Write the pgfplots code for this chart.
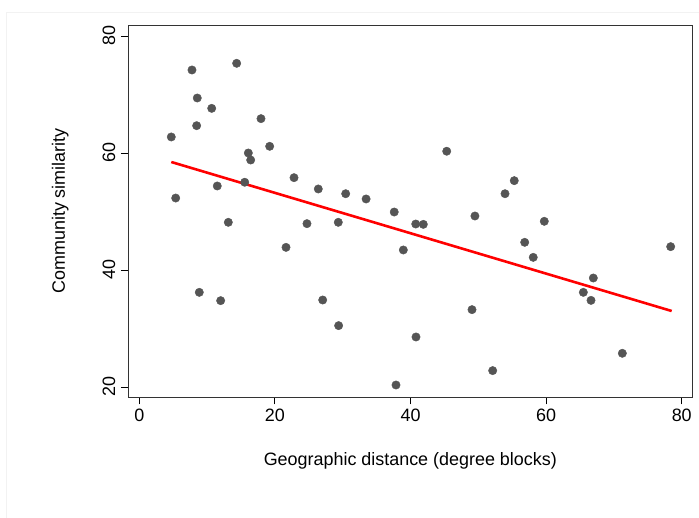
\documentclass[border=0pt]{standalone}
\usepackage{pgfplots}
\pgfplotsset{compat=1.18}
\usepackage{fontspec}
\setmainfont{Liberation Sans}
\definecolor{markgray}{HTML}{555555}
\definecolor{framegray}{HTML}{F2F2F2}

\begin{document}
\begin{tikzpicture}[x=1bp,y=1bp]
\begin{axis}[
  scale only axis,
  width=564bp, height=372bp,
  xmin=-1.62, xmax=81.56,
  ymin=18.29, ymax=81.88,
  xtick={0,20,40,60,80},
  ytick={20,40,60,80},
  tick align=outside,
  major tick length=7.5bp,
  tick style={black, line width=0.8bp},
  axis line style={black!80, line width=0.9bp},
  xtick pos=bottom, ytick pos=left,
  /pgf/number format/assume math mode=true,
  tick label style={font=\fontsize{18}{21}\selectfont},
  yticklabel style={rotate=90, anchor=south, yshift=2bp},
  xticklabel style={yshift=-1bp},
  label style={font=\fontsize{18}{21}\selectfont},
  xlabel={Geographic distance (degree blocks)},
  ylabel={Community similarity},
  xlabel style={at={(axis description cs:0.5,0)}, anchor=center, yshift=-64bp},
  ylabel style={at={(axis description cs:0,0.5)}, anchor=center, yshift=68bp},
  clip=false,
]
\coordinate (O) at (rel axis cs:0,0);
\addplot[only marks, mark=*, mark size=4.2bp, draw=markgray, fill=markgray]
coordinates {
(4.72,62.74) (5.37,52.30) (7.77,74.19) (8.55,69.40) (8.46,64.67)
(10.68,67.63) (14.36,75.33) (11.50,54.36) (13.13,48.15) (16.08,60.00)
(16.43,58.80) (15.55,55.00) (17.95,65.87) (19.23,61.14) (22.82,55.78)
(24.73,47.92) (26.40,53.85) (29.35,48.15) (30.44,53.04) (21.64,43.87)
(33.45,52.14) (37.60,49.91) (40.77,47.86) (41.89,47.80) (38.94,43.42)
(45.34,60.30) (49.50,49.23) (53.94,53.04) (55.30,55.27) (56.84,44.73)
(59.73,48.32) (58.10,42.16) (78.37,43.99)
(8.85,36.18) (12.00,34.76) (27.05,34.87) (29.40,30.49)
(66.96,38.63) (65.49,36.18) (66.62,34.81) (49.07,33.22) (40.81,28.55)
(52.12,22.80) (37.86,20.34) (71.24,25.76)
};
% fitted linear trend
\addplot[red, line width=2.6bp, no marks] coordinates {(4.72,58.46) (78.52,32.99)};
\end{axis}
% page frame, placed relative to the lower left corner of the plot box
\pgfresetboundingbox
\begin{scope}[shift={(O)}]
\path[use as bounding box] (-128.3,-121) rectangle ++(699,518);
\draw[framegray, line width=0.8bp] (-121.8,-121) -- (-121.8,385) -- (570.7,385);
\end{scope}
\end{tikzpicture}
\end{document}
